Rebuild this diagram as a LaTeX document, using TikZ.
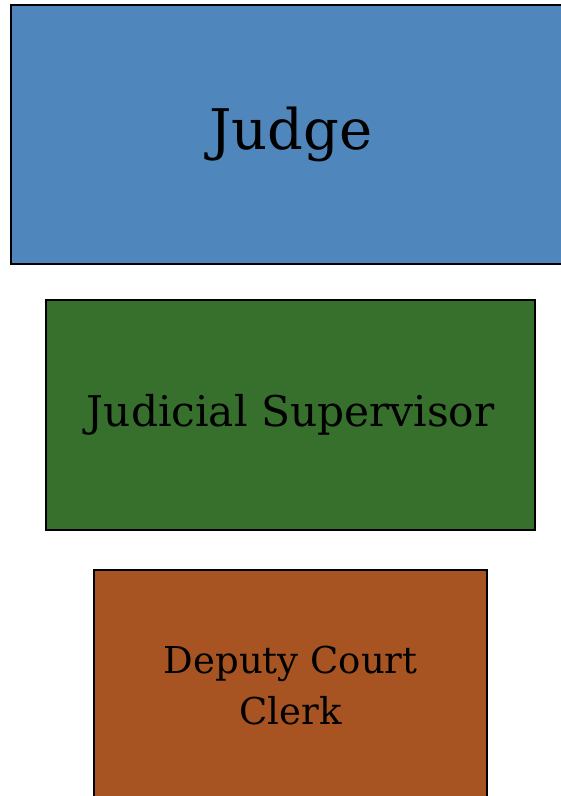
\documentclass[tikz,border=0pt]{standalone}
\usepackage{fontspec}
\setmainfont{DejaVu Serif}
\definecolor{judgeblue}{RGB}{79,134,188}
\definecolor{supgreen}{RGB}{54,112,44}
\definecolor{clerkbrown}{RGB}{168,84,34}
\begin{document}
\begin{tikzpicture}[x=1pt,y=1pt,
  rolebox/.style={draw=black, line width=2.4pt, inner sep=0pt, anchor=north west,
                  align=center, text=black}]
\useasboundingbox (0,0) rectangle (561,796);
\clip (0,0) rectangle (561,796);
\node[rolebox, fill=judgeblue, minimum width=559pt, minimum height=259pt,
      font=\fontsize{56}{60}\selectfont] (judge) at (10,792) {Judge};
\node[rolebox, fill=supgreen, minimum width=489pt, minimum height=230pt,
      font=\fontsize{42.3}{48}\selectfont] (sup) at (45,497) {Judicial Supervisor};
\node[rolebox, fill=clerkbrown, minimum width=393pt, minimum height=230pt,
      font=\fontsize{37}{51}\selectfont] (clerk) at (93,227) {Deputy Court\\Clerk};
\end{tikzpicture}
\end{document}
